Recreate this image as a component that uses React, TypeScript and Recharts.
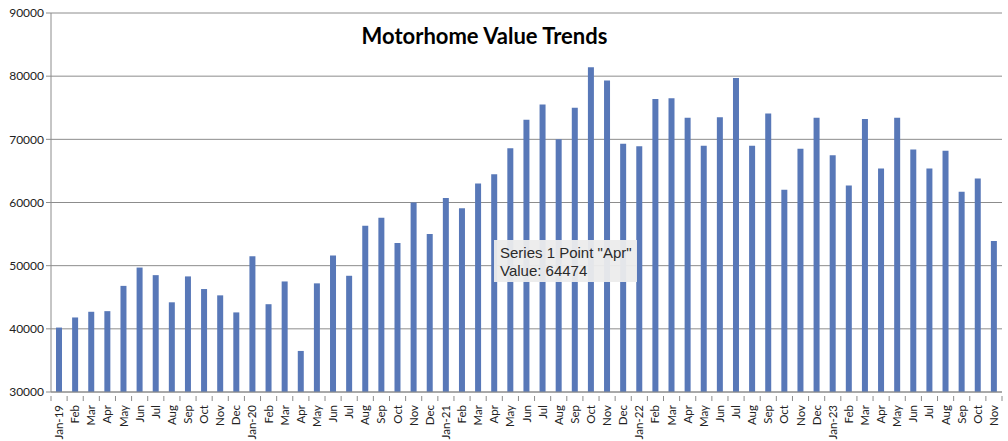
import React from 'react';
import {
    BarChart,
    Bar,
    XAxis,
    YAxis,
    CartesianGrid,
    Tooltip
} from 'recharts';

const months: string[] = [
    'Jan-19', 'Feb', 'Mar', 'Apr', 'May', 'Jun', 'Jul', 'Aug', 'Sep', 'Oct', 'Nov', 'Dec',
    'Jan-20', 'Feb', 'Mar', 'Apr', 'May', 'Jun', 'Jul', 'Aug', 'Sep', 'Oct', 'Nov', 'Dec',
    'Jan-21', 'Feb', 'Mar', 'Apr', 'May', 'Jun', 'Jul', 'Aug', 'Sep', 'Oct', 'Nov', 'Dec',
    'Jan-22', 'Feb', 'Mar', 'Apr', 'May', 'Jun', 'Jul', 'Aug', 'Sep', 'Oct', 'Nov', 'Dec',
    'Jan-23', 'Feb', 'Mar', 'Apr', 'May', 'Jun', 'Jul', 'Aug', 'Sep', 'Oct', 'Nov'
];

const values: number[] = [
    40200, 41800, 42700, 42800, 46800, 49700, 48500, 44200, 48300, 46300, 45300, 42600,
    51500, 43900, 47500, 36500, 47200, 51600, 48400, 56300, 57600, 53600, 60000, 55000,
    60700, 59100, 63000, 64474, 68600, 73100, 75500, 70000, 75000, 81400, 79300, 69300,
    68900, 76400, 76500, 73400, 69000, 73500, 79700, 69000, 74100, 62000, 68500, 73400,
    67500, 62700, 73200, 65400, 73400, 68400, 65400, 68200, 61700, 63800, 53900
];

const yTicks: number[] = [30000, 40000, 50000, 60000, 70000, 80000, 90000];

const W = 1008;
const H = 441;
const PLOT_LEFT = 51;
const PLOT_RIGHT = 1002;
const BAND = (PLOT_RIGHT - PLOT_LEFT) / months.length;

const chartData = months.map((m, i) => ({ name: m, value: values[i], idx: i }));

const XTick = (props: any) => {
    const { x, y, payload } = props;
    return (
        <g>
            <line x1={x - BAND / 2} x2={x - BAND / 2} y1={y - 4} y2={y + 1} stroke="#8c8c8c" />
            {payload.index === months.length - 1 && (
                <line x1={x + BAND / 2} x2={x + BAND / 2} y1={y - 4} y2={y + 1} stroke="#8c8c8c" />
            )}
            <text
                x={x + 4}
                y={y + 5}
                transform={`rotate(-90, ${x + 4}, ${y + 5})`}
                textAnchor="end"
                fontSize={11.5}
                fill="#222"
                fontFamily="Lato, 'Open Sans', sans-serif"
            >
                {payload.value}
            </text>
        </g>
    );
};

const TipBox = () => (
    <div
        style={{
            background: 'rgba(236,236,236,0.95)',
            width: 143,
            height: 42,
            boxSizing: 'border-box',
            padding: '4px 0 0 6px',
            fontFamily: "'Liberation Sans', Arial, sans-serif",
            fontSize: 15,
            lineHeight: '18px',
            color: '#2a2a2a',
            whiteSpace: 'nowrap'
        }}
    >
        <div>Series 1 Point "Apr"</div>
        <div>Value: 64474</div>
    </div>
);

const App: React.FC = () => {
    return (
        <div style={{ position: 'absolute', left: 0, top: 0, width: W, height: H, background: '#fff' }}>
            <div
                style={{
                    position: 'absolute',
                    left: 0,
                    width: 969,
                    top: 22,
                    textAlign: 'center',
                    fontFamily: "Lato, 'Open Sans', sans-serif",
                    fontWeight: 'bold',
                    fontSize: 22,
                    color: '#000',
                    zIndex: 2,
                    pointerEvents: 'none'
                }}
            >
                Motorhome Value Trends
            </div>
            <BarChart
                width={W}
                height={H}
                data={chartData}
                margin={{ top: 13, right: W - PLOT_RIGHT, left: 0, bottom: 0 }}
                barSize={6}
            >
                <CartesianGrid vertical={false} stroke="#8c8c8c" strokeWidth={1} />
                <XAxis
                    dataKey="idx"
                    type="category"
                    interval={0}
                    height={H - 392}
                    tick={(p: any) => <XTick {...p} payload={{ ...p.payload, value: months[p.payload.value] }} />}
                    tickLine={false}
                    axisLine={{ stroke: '#8c8c8c' }}
                />
                <YAxis
                    domain={[30000, 90000]}
                    ticks={yTicks}
                    interval={0}
                    width={PLOT_LEFT}
                    tick={{ fontSize: 12, fill: '#222', fontFamily: "Lato, 'Open Sans', sans-serif" }}
                    tickSize={5}
                    tickLine={{ stroke: '#8c8c8c' }}
                    axisLine={{ stroke: '#8c8c8c' }}
                />
                <Tooltip
                    active={true}
                    defaultIndex={27}
                    cursor={false}
                    position={{ x: 494, y: 240 }}
                    wrapperStyle={{ zIndex: 3 }}
                    content={() => <TipBox />}
                    isAnimationActive={false}
                />
                <Bar dataKey="value" fill="#5878B8" isAnimationActive={false} />
            </BarChart>
        </div>
    );
};

export default App;
